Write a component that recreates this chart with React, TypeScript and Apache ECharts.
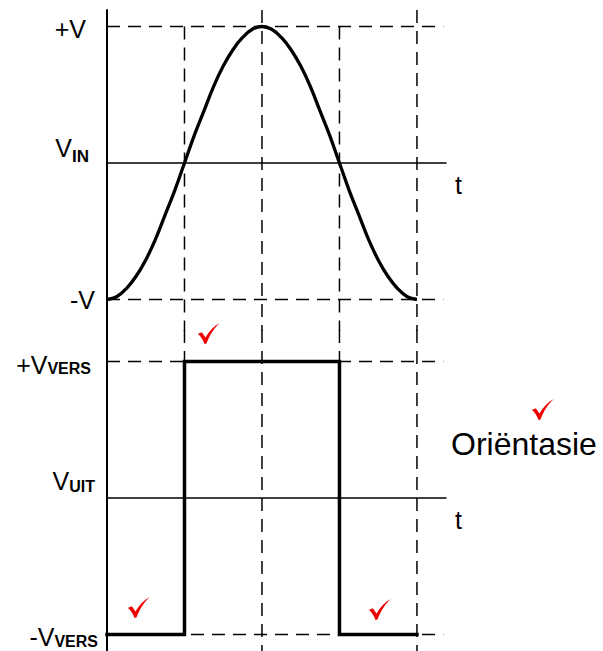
import React, { useEffect, useRef } from 'react';
import * as echarts from 'echarts';

// ---------- data ----------
const vinX = [
  0, 0.125, 0.25, 0.375, 0.5, 0.625, 0.75, 0.875, 1, 1.125, 1.25, 1.375, 1.5, 1.625, 1.75, 1.875, 2,
  2.125, 2.25, 2.375, 2.5, 2.625, 2.75, 2.875, 3, 3.125, 3.25, 3.375, 3.5, 3.625, 3.75, 3.875, 4,
];
const vinY = [
  -1, -0.98, -0.92, -0.83, -0.71, -0.56, -0.38, -0.2, 0, 0.2, 0.38, 0.56, 0.71, 0.83, 0.92, 0.98, 1,
  0.98, 0.92, 0.83, 0.71, 0.56, 0.38, 0.2, 0, -0.2, -0.38, -0.56, -0.71, -0.83, -0.92, -0.98, -1,
];
const voutX = [0, 1, 1, 3, 3, 4];
const voutY = [-1, -1, 1, 1, -1, -1];

const topLevels = [1, 0, -1];
const topMain = ['+V', 'V', '-V'];
const topSub = ['', 'IN', ''];
const bottomLevels = [1, 0, -1];
const bottomMain = ['+V', 'V', '-V'];
const bottomSub = ['VERS', 'UIT', 'VERS'];

const dashedLevels = [1, -1];
const guideXs = [1, 2, 3, 4];
const topGuideFrom = [1, 1.12, 1, 1.12];
const bottomGuideTo = [-1, -1.12, -1, -1.12];
const axisName = 't';
const noteText = 'Oriëntasie';

// ---------- layout / style ----------
const FONT = '"Liberation Sans", Arial, Helvetica, sans-serif';
const X_MAX = 4.375;
const H_END = 4.34;
const TOP_RANGE = [-1.23, 1.12];
const BOT_RANGE = [-1.12, 1.23];
const PX_PER_UNIT = 136.5;
const TOP_ZERO = 163;
const BOT_ZERO = 498;

// label offsets: main dy, sub dy, right padding
const topLabelStyle = [
  { dm: 2, ds: 0, pr: 13 },
  { dm: -14.7, ds: -6.9, pr: 10 },
  { dm: 0, ds: 0, pr: 4 },
];
const bottomLabelStyle = [
  { dm: 3.3, ds: 6.5, pr: 8 },
  { dm: -16.7, ds: -11.5, pr: 4 },
  { dm: 2.5, ds: 6.5, pr: 1 },
];

const TICK_PATH =
  'M0,11 C1.5,10 3,9.5 4,9.5 L7.5,14.5 C11,8 16,3 22,0 C16.5,4.5 12,11 8.5,20.5 L6.5,21 C5,17 2.5,13 0,11 Z';
echarts.graphic.registerShape('tick', echarts.graphic.extendPath(TICK_PATH, {}));

const tickMarks = [
  [198, 323],
  [128, 597],
  [369, 599],
  [532, 399],
];

function pad(dy: number, right: number) {
  return dy >= 0 ? [2 * dy, right, 0, 0] : [0, right, -2 * dy, 0];
}

function buildRich(p: string, mains: string[], subs: string[], st: any[], subSize: number) {
  const rich: any = {};
  mains.forEach((m, i) => {
    const hasSub = subs[i] !== '';
    rich[`m${p}${i}`] = {
      fontSize: 25,
      fontFamily: FONT,
      color: '#000',
      padding: pad(st[i].dm, hasSub ? 0 : st[i].pr),
    };
    rich[`s${p}${i}`] = {
      fontSize: subSize,
      fontWeight: 'bold',
      fontFamily: FONT,
      color: '#000',
      padding: pad(st[i].ds, st[i].pr),
    };
  });
  return rich;
}

function formatterFor(p: string, levels: number[], mains: string[], subs: string[]) {
  return (value: number) => {
    const i = levels.findIndex((l) => Math.abs(l - value) < 1e-6);
    if (i < 0) return '';
    let s = `{m${p}${i}|${mains[i]}}`;
    if (subs[i] !== '') s += `{s${p}${i}|${subs[i]}}`;
    return s;
  };
}

const dashStyle = { color: '#000', width: 1.5, type: [13, 8] as any };

function guideSeries(idx: number, pts: number[][]) {
  return {
    type: 'line',
    xAxisIndex: idx,
    yAxisIndex: idx,
    data: pts,
    symbol: 'none',
    silent: true,
    lineStyle: dashStyle,
    z: 1,
  };
}

function makeOption() {
  const topH = TOP_RANGE[1] - TOP_RANGE[0];
  const botH = BOT_RANGE[1] - BOT_RANGE[0];
  const grids = [
    {
      left: 107,
      top: TOP_ZERO - TOP_RANGE[1] * PX_PER_UNIT,
      width: X_MAX * 77.486,
      height: topH * PX_PER_UNIT,
      outerBoundsMode: 'none',
      containLabel: false,
    },
    {
      left: 107,
      top: BOT_ZERO - BOT_RANGE[1] * PX_PER_UNIT,
      width: X_MAX * 77.486,
      height: botH * PX_PER_UNIT,
      outerBoundsMode: 'none',
      containLabel: false,
    },
  ];
  const xAxes = [0, 1].map((g) => ({
    type: 'value',
    gridIndex: g,
    min: 0,
    max: X_MAX,
    name: `{t|${axisName}}`,
    nameLocation: 'end',
    nameGap: 9,
    nameTextStyle: {
      fontSize: 25,
      fontFamily: FONT,
      color: '#000',
      align: 'left',
      verticalAlign: 'middle',
      rich: {
        t: { fontSize: 25, fontFamily: FONT, color: '#000', padding: [43, 0, 0, 0] },
      },
    },
    axisLine: { show: true, onZero: true, lineStyle: { color: '#000', width: 1.5 } },
    axisTick: { show: false },
    axisLabel: { show: false },
    splitLine: { show: false },
  }));
  const yAxes = [
    {
      type: 'value',
      gridIndex: 0,
      min: TOP_RANGE[0],
      max: TOP_RANGE[1],
      axisLine: { show: true, onZero: false, lineStyle: { color: '#000', width: 2 } },
      axisTick: { show: false },
      splitLine: { show: false },
      axisLabel: {
        show: true,
        customValues: topLevels,
        margin: 8,
        formatter: formatterFor('t', topLevels, topMain, topSub),
        rich: buildRich('t', topMain, topSub, topLabelStyle, 17),
      },
    },
    {
      type: 'value',
      gridIndex: 1,
      min: BOT_RANGE[0],
      max: BOT_RANGE[1],
      axisLine: { show: true, onZero: false, lineStyle: { color: '#000', width: 2 } },
      axisTick: { show: false },
      splitLine: { show: false },
      axisLabel: {
        show: true,
        customValues: bottomLevels,
        margin: 8,
        formatter: formatterFor('b', bottomLevels, bottomMain, bottomSub),
        rich: buildRich('b', bottomMain, bottomSub, bottomLabelStyle, 16),
      },
    },
  ];

  const series: any[] = [];
  dashedLevels.forEach((l) => {
    series.push(guideSeries(0, [[0, l], [H_END, l]]));
    series.push(guideSeries(1, [[0, l], [H_END, l]]));
  });
  guideXs.forEach((x, i) => {
    series.push(guideSeries(0, [[x, topGuideFrom[i]], [x, TOP_RANGE[0]]]));
    series.push(guideSeries(1, [[x, BOT_RANGE[1]], [x, bottomGuideTo[i]]]));
  });
  series.push({
    type: 'line',
    name: 'VIN',
    xAxisIndex: 0,
    yAxisIndex: 0,
    data: vinX.map((x, i) => [x, vinY[i]]),
    smooth: 0.4,
    symbol: 'none',
    silent: true,
    lineStyle: { color: '#000', width: 3.3, join: 'round' },
    z: 3,
  });
  series.push({
    type: 'line',
    name: 'VUIT',
    xAxisIndex: 1,
    yAxisIndex: 1,
    data: voutX.map((x, i) => [x, voutY[i]]),
    symbol: 'none',
    silent: true,
    lineStyle: { color: '#000', width: 3.5, join: 'miter', cap: 'square' },
    z: 3,
  });

  const graphic: any[] = tickMarks.map(([x, y]) => ({
    type: 'tick',
    x,
    y,
    silent: true,
    style: { fill: '#ee0000' },
  }));
  graphic.push({
    type: 'text',
    x: 451,
    y: 444,
    silent: true,
    style: {
      text: noteText,
      fontSize: 32,
      fontFamily: FONT,
      fill: '#000',
      align: 'left',
      verticalAlign: 'middle',
    },
  });

  return {
    animation: false,
    backgroundColor: '#fff',
    grid: grids,
    xAxis: xAxes,
    yAxis: yAxes,
    series,
    graphic,
  };
}

export default function App() {
  const ref = useRef<HTMLDivElement>(null);
  useEffect(() => {
    if (!ref.current) return;
    const chart = echarts.init(ref.current, null, { renderer: 'svg', width: 603, height: 651 });
    chart.setOption(makeOption() as any);
    return () => chart.dispose();
  }, []);
  return (
    <div
      ref={ref}
      style={{ position: 'absolute', left: 0, top: 0, width: 603, height: 651, background: '#fff' }}
    />
  );
}
